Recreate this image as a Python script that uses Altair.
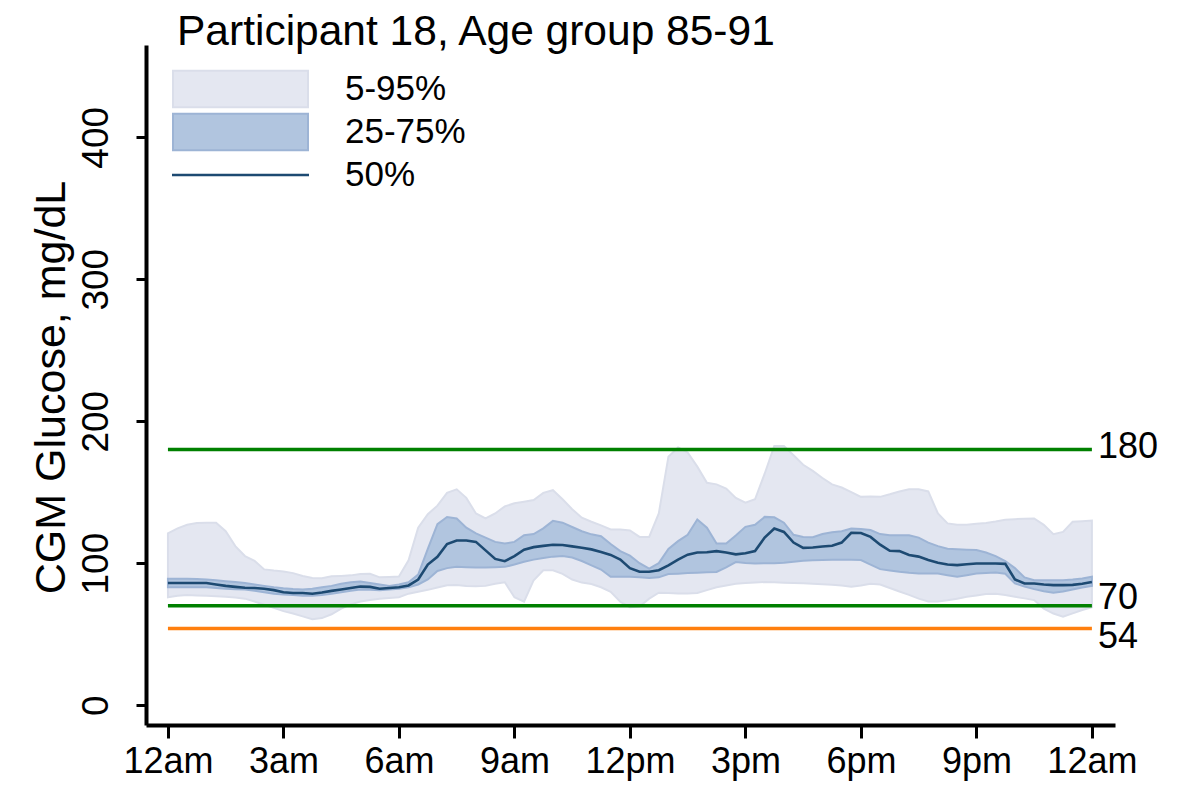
import altair as alt
import pandas as pd

# ---------------- data (15-minute grid) ----------------
hours = [0, 0.25, 0.5, 0.75, 1, 1.25, 1.5, 1.75, 2, 2.25, 2.5, 2.75,
         3, 3.25, 3.5, 3.75, 4, 4.25, 4.5, 4.75, 5, 5.25, 5.5, 5.75,
         6, 6.25, 6.5, 6.75, 7, 7.25, 7.5, 7.75, 8, 8.25, 8.5, 8.75,
         9, 9.25, 9.5, 9.75, 10, 10.25, 10.5, 10.75, 11, 11.25, 11.5, 11.75,
         12, 12.25, 12.5, 12.75, 13, 13.25, 13.5, 13.75, 14, 14.25, 14.5, 14.75,
         15, 15.25, 15.5, 15.75, 16, 16.25, 16.5, 16.75, 17, 17.25, 17.5, 17.75,
         18, 18.25, 18.5, 18.75, 19, 19.25, 19.5, 19.75, 20, 20.25, 20.5, 20.75,
         21, 21.25, 21.5, 21.75, 22, 22.25, 22.5, 22.75, 23, 23.25, 23.5, 23.75,
         24]

p50 = [86, 86, 86, 86, 86, 85, 84, 83.3, 82.7, 82.5, 82, 81,
       79.5, 79, 79, 78.5, 79.3, 80.5, 81.5, 82.5, 83.5, 83.3, 82, 82.5,
       83, 84.3, 88.5, 99, 104.5, 113.5, 116, 116, 115, 109, 103, 101.4,
       105, 109.5, 111.3, 112.2, 113, 112.8, 111.8, 110.8, 109.7, 107.8, 105.8, 102.5,
       96.5, 93.9, 93.9, 95, 98.5, 102.5, 106, 107.5, 107.7, 108.5, 107.5, 106.2,
       107, 108.5, 118, 124.4, 122, 114.5, 110.8, 111, 111.7, 112.3, 114.5, 121.4,
       121.2, 118.5, 113, 108.7, 108.5, 105.8, 104.6, 102.2, 100.3, 99, 98.6, 99.2,
       99.8, 99.8, 99.8, 99.5, 88.5, 85.7, 85.7, 85, 84.5, 84.5, 84.7, 85.5,
       86.7]

p25 = [83, 83, 83, 83, 83, 82.5, 82, 81.7, 81.5, 80.5, 79.5, 78.5,
       78, 77.5, 77, 77, 77.5, 78.5, 79.5, 80.5, 81.5, 81.2, 81, 81.5,
       82, 83, 85, 88.5, 94.5, 96.5, 97.4, 97.2, 97, 97, 97.2, 97.4,
       99, 101, 102.5, 103.7, 104.6, 105, 104, 101.5, 98.5, 95.5, 90.4, 90.4,
       90.4, 90, 89.5, 90, 92.3, 92.6, 93, 93.3, 93.6, 93.8, 97, 100.8,
       100.2, 99.8, 99.9, 100, 100.3, 101, 101.7, 102.1, 102.3, 102.4, 102.4, 102.4,
       102.2, 99, 95.8, 94.8, 93.9, 93.2, 92.7, 92.7, 92.7, 91.5, 90.4, 91.5,
       92.7, 93.1, 93.5, 92.5, 85.7, 83.5, 81.7, 80.2, 79.2, 80, 81.5, 82.8,
       84]

p75 = [89, 89, 89, 88.8, 88.5, 88, 87.3, 86.7, 86, 85, 84, 83,
       82.3, 81.8, 81.5, 82, 83, 84, 85.5, 86.5, 87, 86, 85, 84,
       85, 86.5, 92, 110, 127.5, 132.5, 131.5, 125, 121, 118, 115, 113.8,
       115, 119.7, 120.5, 124.5, 129.8, 128.5, 125.5, 122.5, 120.3, 119, 113.5, 108.5,
       105.3, 100, 96.2, 100, 110, 115.5, 120, 130.8, 125, 113.8, 113.8, 119.5,
       125.6, 127, 132.6, 132.3, 128.5, 120, 118.4, 118.3, 120.5, 121.7, 122.5, 124.4,
       124, 123.3, 120.5, 119.7, 119.7, 119.7, 118, 114.5, 112, 110.2, 109.8, 109.5,
       109.2, 107.5, 105, 101.5, 96.5, 90, 88, 88, 88, 88, 88.5, 89.2,
       90.4]

p5 = [76, 77, 77.5, 77.2, 77, 76.7, 76.3, 75.8, 75, 73, 70.7, 68.5,
      66.2, 64.5, 62.5, 60.5, 61.3, 64, 68, 71, 73, 74, 75, 75.5,
      76, 78.5, 79.8, 81.2, 82.8, 84.5, 84.6, 83.9, 83.7, 84, 85.5, 86.5,
      76, 72.8, 88, 95, 95, 92.5, 88.5, 86.3, 85.3, 83, 79.8, 72.8,
      69, 69.5, 75, 79.2, 79, 78.6, 78.6, 79, 81, 83, 84.3, 85.5,
      86, 86.3, 86.7, 86.5, 86.2, 86, 85.8, 85.5, 85.2, 84.8, 84.2, 83.4,
      84.3, 85.5, 85, 82.5, 80, 77.7, 75, 73, 73, 73.8, 75, 76.3,
      77.2, 78.2, 78.5, 77.5, 76.3, 75.2, 74, 68, 64.5, 62.3, 64.6, 67,
      69]

p95 = [121, 124.5, 127, 128.3, 128.4, 128.4, 122.5, 112, 105, 101.6, 95.6, 94.8,
       94.2, 93, 91, 89.5, 89.3, 90.7, 91, 91.4, 92.3, 92.5, 90, 90.3,
       90.6, 102, 125, 134.5, 140.5, 149.5, 152, 146, 135, 131.5, 135, 140,
       142.2, 143.3, 144.5, 149.5, 151.4, 145, 138, 132, 129.2, 126.6, 123.7, 123.7,
       123, 118.5, 118.5, 135, 175, 181.5, 178, 168, 156.6, 155.5, 152.5, 146,
       142.6, 145, 163, 182.5, 182.5, 176, 169.3, 165, 160, 155.5, 153.3, 150,
       146.7, 147, 146.7, 148.5, 150.5, 152, 152, 150.5, 135, 128, 127, 127,
       127.7, 128.3, 129.3, 130.6, 131, 131.2, 131.5, 127, 120.4, 122, 129.2, 129.6,
       130]

thresholds = [180, 70, 54]
band_labels = ["5-95%", "25-75%", "50%"]
x_ticks = [0, 3, 6, 9, 12, 15, 18, 21, 24]
x_tick_labels = ["12am", "3am", "6am", "9am", "12pm", "3pm", "6pm", "9pm", "12am"]
y_ticks = [0, 100, 200, 300, 400]
title_text = "Participant 18, Age group 85-91"
y_title = "CGM Glucose, mg/dL"

# ---------------- style ----------------
FONT = "Liberation Sans"
C_OUTER = "#e4e7f1"
C_OUTER_EDGE = "#dadeea"
C_IQR = "#b1c5df"
C_IQR_EDGE = "#9db4d5"
C_MED = "#1d4a72"
THR_COLORS = {180: "#008000", 70: "#008000", 54: "#ff7f0e"}
THR_DY = {180: -3, 70: -8, 54: 9}

df = pd.DataFrame({"h": hours, "p5": p5, "p25": p25, "p50": p50,
                   "p75": p75, "p95": p95})

x_scale = alt.Scale(domain=[-0.57, 24.6], nice=False, zero=False)
y_scale = alt.Scale(domain=[-14, 465], nice=False, zero=False)

label_expr = "{}[indexof({}, datum.value)]".format(str(x_tick_labels),
                                                    str(x_ticks))

x_axis = alt.Axis(values=x_ticks, labelExpr=label_expr, title=None, grid=False,
                  domainColor="black", domainWidth=4, tickColor="black",
                  tickWidth=3, tickSize=13, labelFontSize=36, labelFont=FONT,
                  labelColor="black", labelPadding=6, labelFlush=False,
                  labelOverlap=False)
y_axis = alt.Axis(values=y_ticks, title=y_title, grid=False,
                  domainColor="black", domainWidth=4, tickColor="black",
                  tickWidth=3, tickSize=10, labelFontSize=37, labelFont=FONT,
                  labelColor="black", labelAngle=270, labelPadding=21,
                  titleFontSize=43, titleFont=FONT, titleFontWeight="normal",
                  titleColor="black", titleX=-73, titleY=342, titleAngle=270,
                  titleAlign="center", titleBaseline="bottom")

base = alt.Chart(df)

outer = base.mark_area(color=C_OUTER, stroke=C_OUTER_EDGE, strokeWidth=2,
                       opacity=1).encode(
    x=alt.X("h:Q", scale=x_scale, axis=x_axis),
    y=alt.Y("p5:Q", scale=y_scale, axis=y_axis),
    y2="p95:Q")

iqr = base.mark_area(color=C_IQR, stroke=C_IQR_EDGE, strokeWidth=2,
                     opacity=1).encode(
    x="h:Q", y="p25:Q", y2="p75:Q")

med = base.mark_line(color=C_MED, strokeWidth=2.6).encode(x="h:Q", y="p50:Q")

layers = [outer, iqr, med]

for t in thresholds:
    tdf = pd.DataFrame({"v": [t]})
    layers.append(alt.Chart(tdf).mark_rule(color=THR_COLORS[t], strokeWidth=3.5)
                  .encode(x=alt.datum(0), x2=alt.datum(24), y="v:Q"))
    layers.append(alt.Chart(tdf).mark_text(align="left", baseline="middle",
                                           dx=6, dy=THR_DY[t], fontSize=36,
                                           font=FONT, color="black")
                  .encode(x=alt.datum(24), y="v:Q", text="v:Q"))

# legend (built from the band labels; the layer itself draws nothing)
rect_path = "M-1,-0.27L1,-0.27L1,0.27L-1,0.27Z"
line_path = "M-1,-0.005L1,-0.005L1,0.005L-1,0.005Z"
leg = alt.Legend(title=None, orient="none", legendX=26, legendY=24,
                 labelFontSize=35, labelFont=FONT, labelColor="black",
                 labelOffset=36, clipHeight=40, rowPadding=3, padding=0,
                 symbolOffset=0, labelLimit=0, symbolStrokeWidth=2,
                 symbolSize=18225, symbolOpacity=1)
legend_layer = alt.Chart(alt.Data(values=[{"band": b} for b in band_labels])
                         ).transform_filter("false").mark_point(
    filled=True, size=18225, strokeWidth=2, opacity=1).encode(
    x=alt.value(0), y=alt.value(0),
    fill=alt.Fill("band:N", scale=alt.Scale(domain=band_labels,
                  range=[C_OUTER, C_IQR, C_MED]), legend=leg),
    stroke=alt.Stroke("band:N", scale=alt.Scale(domain=band_labels,
                      range=[C_OUTER_EDGE, C_IQR_EDGE, C_MED]), legend=leg),
    shape=alt.Shape("band:N", scale=alt.Scale(domain=band_labels,
                    range=[rect_path, rect_path, line_path]), legend=leg))
layers.append(legend_layer)

chart = alt.layer(*layers).properties(
    width=969, height=680,
    padding={"left": 138, "top": 37, "right": 60, "bottom": 58},
    autosize=alt.AutoSizeParams(type="none"),
    title=alt.TitleParams(title_text, anchor="start", frame="group", dx=31,
                          dy=40, offset=-2, fontSize=42.5, font=FONT,
                          fontWeight="normal", color="black",
                          baseline="alphabetic"),
).configure(background="white").configure_view(stroke=None)

chart.save("out.html", embed_options={"renderer": "svg", "actions": False})
